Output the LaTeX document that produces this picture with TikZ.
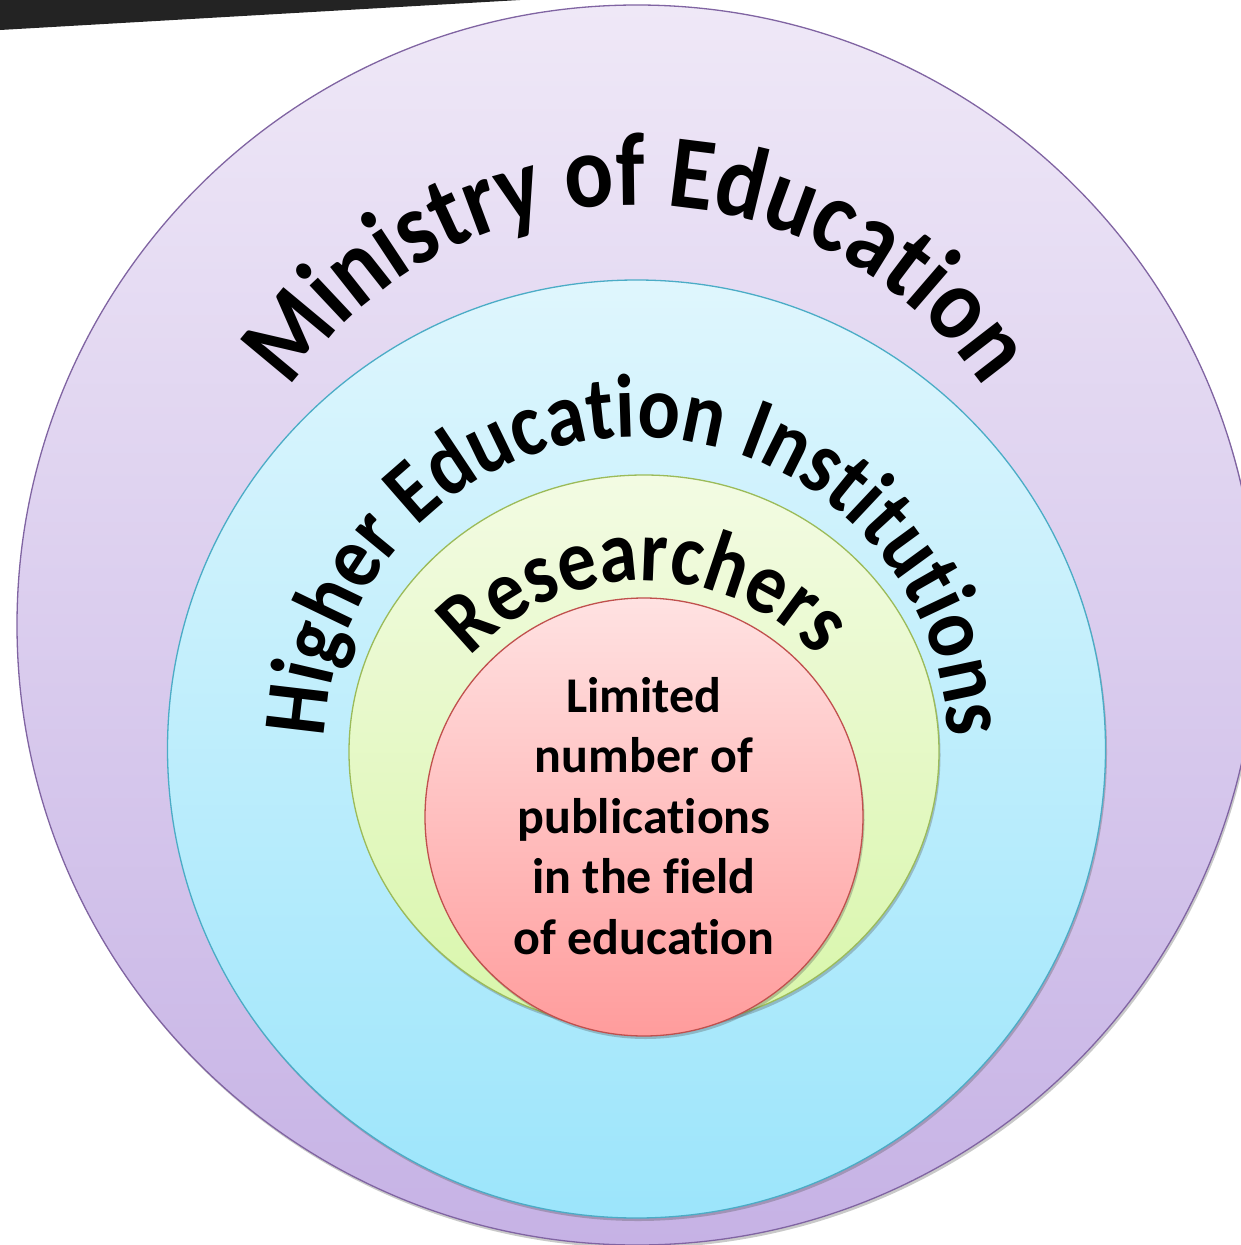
\documentclass[tikz,border=0pt]{standalone}
\usepackage{fontspec}
\setmainfont{Carlito}[Ligatures={NoCommon}]
\newfontfamily\archfont{Carlito}[FakeStretch=0.88, Ligatures={NoCommon}]
\usetikzlibrary{decorations.text,shadows,shapes.geometric}
\definecolor{barblack}{HTML}{232323}
\definecolor{purpleedge}{HTML}{8064A2}
\definecolor{purpletop}{HTML}{EFE8F7}
\definecolor{purplebot}{HTML}{C6B2E5}
\definecolor{blueedge}{HTML}{4BACC6}
\definecolor{bluetop}{HTML}{DFF6FD}
\definecolor{bluebot}{HTML}{9CE5FB}
\definecolor{greenedge}{HTML}{9BBB59}
\definecolor{greentop}{HTML}{F3FBE3}
\definecolor{greenbot}{HTML}{D8F6AA}
\definecolor{rededge}{HTML}{C0504D}
\definecolor{redtop}{HTML}{FFE2E2}
\definecolor{redbot}{HTML}{FF9C9C}
\begin{document}
\begin{tikzpicture}[x=1pt,y=1pt,
  ring/.style={line width=1.3pt, inner sep=0pt,
    drop shadow={shadow xshift=1.5pt, shadow yshift=-3pt, opacity=0.3, fill=black!70}},
  arclabel/.style={decorate, decoration={text along path, text align=center, text={#1}}}
]
\useasboundingbox (0,0) rectangle (1241,-1245);
\begin{scope}
\clip (0,0) rectangle (1241,-1245);
\fill[barblack] (0,1) -- (520,1) -- (520,0) -- (0,-30) -- cycle;
\node[ring, circle, minimum size=1240pt, draw=purpleedge, top color=purpletop, bottom color=purplebot] (ministry) at (637,-625) {};
\node[ring, circle, minimum size=938pt, draw=blueedge, top color=bluetop, bottom color=bluebot] (hei) at (636.5,-749) {};
\node[ring, ellipse, minimum width=590pt, minimum height=554pt, draw=greenedge, top color=greentop, bottom color=greenbot] (res) at (644,-752) {};
\node[ring, circle, minimum size=438pt, draw=rededge, top color=redtop, bottom color=redbot] (pub) at (644,-817) {};
\end{scope}
\path[arclabel={|\archfont\bfseries\fontsize{104}{104}\selectfont|Ministry of Education}]
  (ministry.center) ++(160:420) arc[start angle=160, end angle=20, radius=420];
\path[arclabel={|\archfont\bfseries\fontsize{90}{90}\selectfont|Higher Education Institutions}]
  (hei.center) ++(190:312) arc[start angle=190, end angle=-10, radius=312];
\path[arclabel={|\archfont\bfseries\fontsize{88}{88}\selectfont|Researchers}]
  (pub.center) ++(160:236) arc[start angle=160, end angle=20, radius=236];
\node[align=center, inner sep=0pt, font=\bfseries\fontsize{50}{60.5}\selectfont] (ptext) at (644,-816)
  {Limited\\number of\\publications\\in the field\\of education};
\end{tikzpicture}
\end{document}
